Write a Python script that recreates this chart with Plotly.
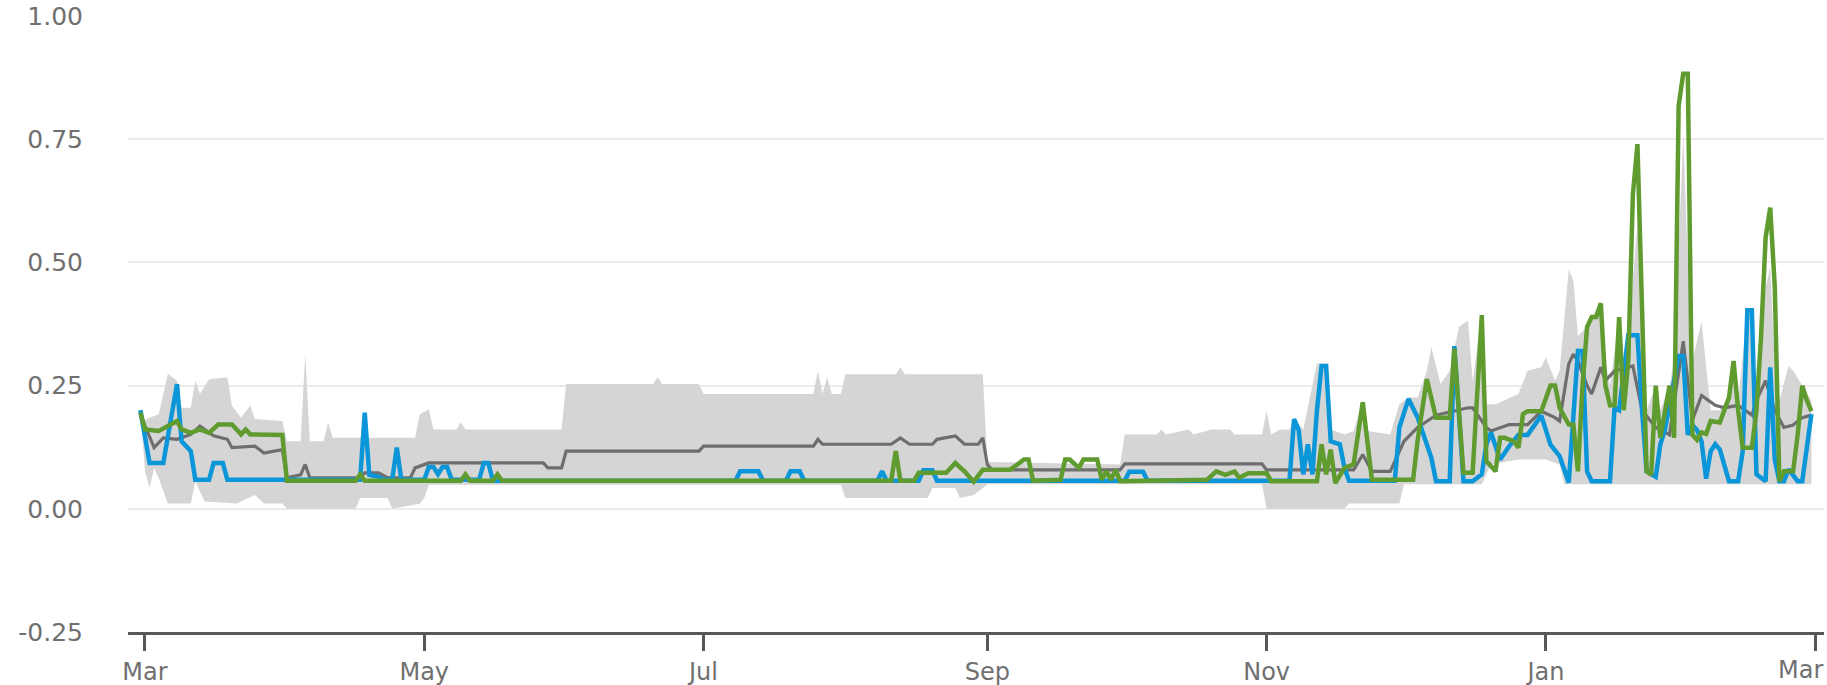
import plotly.graph_objects as go

# ---------------- data ----------------
blue_dates = ["2022-02-28","2022-03-02","2022-03-05","2022-03-08","2022-03-09","2022-03-11","2022-03-12","2022-03-15","2022-03-16","2022-03-18","2022-03-19",
 "2022-04-17","2022-04-18","2022-04-19","2022-04-21","2022-04-22","2022-04-24","2022-04-25","2022-04-26",
 "2022-05-01","2022-05-02","2022-05-03","2022-05-04","2022-05-05","2022-05-06","2022-05-07","2022-05-13","2022-05-14","2022-05-15","2022-05-16",
 "2022-07-08","2022-07-09","2022-07-13","2022-07-14","2022-07-19","2022-07-20","2022-07-22","2022-07-23",
 "2022-08-08","2022-08-09","2022-08-10","2022-08-17","2022-08-18","2022-08-20","2022-08-21",
 "2022-10-01","2022-10-02","2022-10-05","2022-10-06",
 "2022-11-06","2022-11-07","2022-11-08","2022-11-09","2022-11-10","2022-11-11","2022-11-12","2022-11-13","2022-11-14","2022-11-15","2022-11-17","2022-11-18","2022-11-19",
 "2022-11-29","2022-11-30","2022-12-02","2022-12-04","2022-12-07","2022-12-08","2022-12-11","2022-12-12","2022-12-14","2022-12-16","2022-12-18","2022-12-19","2022-12-20",
 "2022-12-22","2022-12-24","2022-12-26","2022-12-28","2022-12-31",
 "2023-01-02","2023-01-04","2023-01-06","2023-01-08","2023-01-09","2023-01-10","2023-01-11","2023-01-15","2023-01-16","2023-01-17","2023-01-19","2023-01-21","2023-01-22",
 "2023-01-23","2023-01-25","2023-01-26","2023-01-27","2023-01-30","2023-01-31",
 "2023-02-01","2023-02-02","2023-02-03","2023-02-04","2023-02-05","2023-02-06","2023-02-07","2023-02-08","2023-02-09","2023-02-10","2023-02-12","2023-02-13",
 "2023-02-14","2023-02-15","2023-02-16","2023-02-18","2023-02-19","2023-02-20","2023-02-21","2023-02-22","2023-02-23","2023-02-25","2023-02-26","2023-02-27","2023-02-28"]
blue_values = [0.20,0.093,0.093,0.253,0.137,0.117,0.059,0.059,0.093,0.093,0.059,
 0.059,0.195,0.069,0.065,0.059,0.059,0.124,0.059,
 0.059,0.085,0.085,0.07,0.085,0.085,0.059,0.059,0.093,0.093,0.057,
 0.057,0.076,0.076,0.057,0.057,0.076,0.076,0.057,
 0.057,0.076,0.057,0.057,0.078,0.078,0.057,
 0.057,0.075,0.075,0.057,
 0.057,0.182,0.16,0.07,0.131,0.07,0.2,0.29,0.29,0.137,0.131,0.083,0.057,
 0.057,0.165,0.223,0.185,0.103,0.056,0.056,0.33,0.056,0.056,0.07,0.13,0.155,
 0.10,0.127,0.15,0.15,0.189,
 0.13,0.107,0.053,0.32,0.32,0.076,0.056,0.056,0.205,0.20,0.352,0.352,0.20,
 0.076,0.065,0.131,0.16,0.31,0.31,
 0.15,0.17,0.16,0.137,0.061,0.117,0.131,0.12,0.09,0.056,0.056,0.117,
 0.403,0.403,0.07,0.056,0.287,0.10,0.056,0.056,0.08,0.056,0.056,0.131,0.192]

green_dates = ["2022-02-28","2022-03-01","2022-03-04","2022-03-06","2022-03-08","2022-03-09","2022-03-11","2022-03-13","2022-03-15","2022-03-17","2022-03-20",
 "2022-03-22","2022-03-23","2022-03-24","2022-03-31","2022-04-01","2022-04-16","2022-04-17","2022-04-18",
 "2022-05-09","2022-05-10","2022-05-11","2022-05-16","2022-05-17","2022-05-18",
 "2022-08-11","2022-08-12","2022-08-13","2022-08-16","2022-08-17","2022-08-23","2022-08-25","2022-08-27","2022-08-29","2022-08-31",
 "2022-09-06","2022-09-09","2022-09-10","2022-09-11","2022-09-17","2022-09-18","2022-09-19","2022-09-21","2022-09-22","2022-09-25","2022-09-26",
 "2022-09-27","2022-09-28","2022-09-29","2022-09-30",
 "2022-10-19","2022-10-21","2022-10-23","2022-10-25","2022-10-26","2022-10-28","2022-11-01","2022-11-02",
 "2022-11-12","2022-11-13","2022-11-14","2022-11-15","2022-11-16","2022-11-18","2022-11-20","2022-11-22","2022-11-24",
 "2022-12-03","2022-12-04","2022-12-06","2022-12-08","2022-12-11","2022-12-12","2022-12-14","2022-12-16","2022-12-18","2022-12-19","2022-12-21",
 "2022-12-22","2022-12-23","2022-12-25","2022-12-26","2022-12-27","2022-12-28","2022-12-31",
 "2023-01-02","2023-01-03","2023-01-04","2023-01-06","2023-01-07","2023-01-08","2023-01-09","2023-01-10","2023-01-11","2023-01-12","2023-01-13",
 "2023-01-14","2023-01-15","2023-01-16","2023-01-17","2023-01-18","2023-01-19","2023-01-20","2023-01-21","2023-01-22","2023-01-23","2023-01-24",
 "2023-01-25","2023-01-26","2023-01-28","2023-01-29","2023-01-30","2023-01-31","2023-02-01","2023-02-02","2023-02-03","2023-02-04","2023-02-05",
 "2023-02-06","2023-02-08","2023-02-10","2023-02-11","2023-02-12","2023-02-13","2023-02-15","2023-02-16","2023-02-17","2023-02-18","2023-02-19",
 "2023-02-20","2023-02-21","2023-02-22","2023-02-24","2023-02-25","2023-02-26","2023-02-27","2023-02-28"]
green_values = [0.195,0.161,0.158,0.168,0.178,0.161,0.154,0.161,0.154,0.171,0.171,
 0.151,0.161,0.151,0.15,0.057,0.057,0.07,0.057,
 0.057,0.07,0.057,0.057,0.07,0.057,
 0.057,0.117,0.057,0.057,0.073,0.073,0.093,0.076,0.055,0.079,
 0.079,0.10,0.10,0.057,0.059,0.10,0.10,0.083,0.10,0.10,0.059,
 0.076,0.059,0.079,0.056,
 0.059,0.076,0.069,0.076,0.063,0.072,0.072,0.056,
 0.056,0.131,0.07,0.12,0.052,0.083,0.09,0.216,0.059,
 0.059,0.14,0.263,0.185,0.185,0.325,0.073,0.073,0.393,0.097,0.076,
 0.144,0.144,0.137,0.124,0.192,0.198,0.198,
 0.25,0.25,0.205,0.171,0.171,0.076,0.25,0.369,0.389,0.389,0.417,
 0.25,0.21,0.21,0.389,0.20,0.30,0.637,0.74,0.40,0.076,0.069,
 0.25,0.144,0.25,0.144,0.818,0.883,0.883,0.15,0.14,0.155,0.152,
 0.178,0.175,0.226,0.30,0.20,0.124,0.124,0.20,0.35,0.55,0.611,
 0.45,0.056,0.076,0.076,0.15,0.25,0.22,0.198]

median_dates = ["2022-02-28","2022-03-03","2022-03-05","2022-03-08","2022-03-11","2022-03-13","2022-03-16","2022-03-19","2022-03-20","2022-03-25","2022-03-27","2022-03-31",
 "2022-04-01","2022-04-04","2022-04-05","2022-04-06","2022-04-17","2022-04-18","2022-04-21","2022-04-23","2022-04-28","2022-04-29",
 "2022-05-02","2022-05-27","2022-05-28","2022-05-31","2022-06-01","2022-06-30","2022-07-01","2022-07-25","2022-07-26","2022-07-27",
 "2022-08-11","2022-08-13","2022-08-15","2022-08-20","2022-08-21","2022-08-25","2022-08-27","2022-08-30","2022-08-31",
 "2022-09-01","2022-09-02","2022-09-30","2022-10-01","2022-10-31","2022-11-01","2022-11-20","2022-11-22","2022-11-24","2022-11-28",
 "2022-12-01","2022-12-04","2022-12-08","2022-12-15","2022-12-16","2022-12-19","2022-12-20","2022-12-24","2022-12-28","2022-12-31",
 "2023-01-03","2023-01-04","2023-01-06","2023-01-07","2023-01-08","2023-01-10","2023-01-11","2023-01-13","2023-01-14","2023-01-16",
 "2023-01-20","2023-01-22","2023-01-25","2023-01-28","2023-01-31","2023-02-02","2023-02-04","2023-02-07","2023-02-09","2023-02-12",
 "2023-02-15","2023-02-16","2023-02-18","2023-02-20","2023-02-22","2023-02-24","2023-02-26","2023-02-28"]
median_values = [0.19,0.124,0.144,0.141,0.151,0.168,0.148,0.141,0.124,0.127,0.113,0.12,
 0.063,0.069,0.09,0.063,0.063,0.073,0.073,0.063,0.063,0.083,
 0.093,0.093,0.083,0.083,0.117,0.117,0.127,0.127,0.141,0.131,
 0.131,0.144,0.131,0.131,0.141,0.148,0.131,0.131,0.144,
 0.09,0.079,0.079,0.091,0.091,0.079,0.079,0.11,0.076,0.076,
 0.137,0.165,0.19,0.205,0.205,0.165,0.158,0.171,0.171,0.198,
 0.185,0.178,0.294,0.314,0.30,0.25,0.233,0.287,0.26,0.28,
 0.29,0.20,0.165,0.15,0.34,0.18,0.23,0.21,0.205,0.21,
 0.19,0.22,0.26,0.20,0.165,0.17,0.185,0.19]

band_high_dates = ["2022-02-28","2022-03-01","2022-03-02","2022-03-04","2022-03-06","2022-03-08","2022-03-09","2022-03-11","2022-03-12","2022-03-13","2022-03-15",
 "2022-03-19","2022-03-20","2022-03-22","2022-03-24","2022-03-25","2022-03-31","2022-04-01","2022-04-04","2022-04-05","2022-04-06","2022-04-09",
 "2022-04-10","2022-04-11","2022-04-29","2022-04-30","2022-05-02","2022-05-03","2022-05-08","2022-05-09","2022-05-10","2022-05-31",
 "2022-06-01","2022-06-20","2022-06-21","2022-06-22","2022-06-30","2022-07-01","2022-07-25","2022-07-26","2022-07-27","2022-07-28","2022-07-29","2022-07-31",
 "2022-08-01","2022-08-12","2022-08-13","2022-08-14","2022-08-31","2022-09-01","2022-09-30","2022-10-01","2022-10-08","2022-10-09","2022-10-10",
 "2022-10-15","2022-10-16","2022-10-20","2022-10-24","2022-10-25","2022-10-31","2022-11-01","2022-11-02","2022-11-04","2022-11-06","2022-11-07",
 "2022-11-09","2022-11-12","2022-11-14","2022-11-15","2022-11-18","2022-11-20","2022-11-22","2022-11-23","2022-11-28","2022-11-30",
 "2022-12-02","2022-12-04","2022-12-06","2022-12-07","2022-12-09","2022-12-11","2022-12-13","2022-12-15","2022-12-16","2022-12-18","2022-12-19",
 "2022-12-21","2022-12-26","2022-12-28","2022-12-31","2023-01-01","2023-01-03","2023-01-04","2023-01-06","2023-01-07","2023-01-08",
 "2023-01-10","2023-01-11","2023-01-13","2023-01-14","2023-01-15","2023-01-17","2023-01-18","2023-01-19","2023-01-21","2023-01-22","2023-01-23",
 "2023-01-25","2023-01-26","2023-01-28","2023-01-29","2023-01-31","2023-02-01","2023-02-02","2023-02-04","2023-02-06","2023-02-08","2023-02-10",
 "2023-02-11","2023-02-12","2023-02-14","2023-02-15","2023-02-16","2023-02-18","2023-02-19","2023-02-20","2023-02-21","2023-02-23","2023-02-24",
 "2023-02-26","2023-02-28"]
band_high_values = [0.202,0.18,0.185,0.192,0.274,0.26,0.205,0.205,0.26,0.233,0.263,
 0.267,0.209,0.185,0.21,0.182,0.178,0.137,0.137,0.314,0.137,0.137,
 0.175,0.144,0.144,0.192,0.202,0.161,0.161,0.175,0.161,0.161,
 0.253,0.253,0.267,0.253,0.253,0.233,0.233,0.28,0.233,0.267,0.233,0.233,
 0.273,0.273,0.287,0.273,0.273,0.095,0.09,0.151,0.151,0.161,0.151,
 0.161,0.151,0.161,0.161,0.151,0.151,0.198,0.151,0.161,0.161,0.185,
 0.161,0.295,0.295,0.161,0.151,0.158,0.22,0.158,0.151,0.212,
 0.226,0.226,0.28,0.328,0.253,0.28,0.369,0.382,0.26,0.396,0.212,
 0.212,0.233,0.28,0.287,0.307,0.26,0.28,0.485,0.464,0.35,
 0.37,0.39,0.42,0.30,0.25,0.39,0.30,0.35,0.58,0.35,0.20,
 0.25,0.20,0.25,0.30,0.76,0.50,0.30,0.38,0.20,0.20,0.23,
 0.30,0.22,0.40,0.40,0.22,0.45,0.49,0.30,0.22,0.29,0.28,
 0.25,0.22]

band_low_dates = ["2022-02-28","2022-03-01","2022-03-02","2022-03-03","2022-03-04","2022-03-06","2022-03-11","2022-03-12","2022-03-14","2022-03-21","2022-03-25",
 "2022-03-27","2022-03-31","2022-04-01","2022-04-16","2022-04-17","2022-04-23","2022-04-24","2022-04-30","2022-05-01","2022-05-02",
 "2022-07-31","2022-08-01","2022-08-19","2022-08-20","2022-08-25","2022-08-26","2022-08-29","2022-08-31","2022-09-01","2022-10-31",
 "2022-11-01","2022-11-18","2022-11-19","2022-11-30","2022-12-01","2022-12-18","2022-12-20","2022-12-26","2023-01-01","2023-01-04",
 "2023-01-05","2023-02-28"]
band_low_values = [0.20,0.076,0.042,0.083,0.062,0.011,0.011,0.056,0.015,0.011,0.028,
 0.011,0.011,0.0,0.0,0.022,0.022,0.0,0.01,0.022,0.049,
 0.049,0.022,0.022,0.042,0.042,0.022,0.028,0.042,0.05,0.05,
 0.0,0.0,0.011,0.011,0.05,0.05,0.09,0.10,0.10,0.09,
 0.05,0.05]

x_tick_dates = ["2022-03-01", "2022-05-01", "2022-07-01", "2022-09-01", "2022-11-01", "2023-01-01", "2023-03-01"]
x_tick_labels = ["Mar", "May", "Jul", "Sep", "Nov", "Jan", "Mar"]
y_tick_values = [-0.25, 0.0, 0.25, 0.5, 0.75, 1.0]
y_tick_labels = ["-0.25", "0.00", "0.25", "0.50", "0.75", "1.00"]

# ---------------- styles ----------------
BLUE = "#0a96d8"
GREEN = "#5f9b2f"
MEDIAN = "#6e6e6e"
BAND = "#d5d5d5"
TEXT = "#707070"
AXIS = "#595959"
FONT = "DejaVu Sans"

fig = go.Figure()

fig.add_trace(go.Scatter(
    x=band_high_dates + band_low_dates[::-1],
    y=band_high_values + band_low_values[::-1],
    fill="toself", fillcolor=BAND, line=dict(width=0), mode="lines",
    hoverinfo="skip", showlegend=False))

fig.add_trace(go.Scatter(x=median_dates, y=median_values, mode="lines",
                         line=dict(color=MEDIAN, width=3.2), showlegend=False))
fig.add_trace(go.Scatter(x=blue_dates, y=blue_values, mode="lines",
                         line=dict(color=BLUE, width=4.5), showlegend=False))
fig.add_trace(go.Scatter(x=green_dates, y=green_values, mode="lines",
                         line=dict(color=GREEN, width=4.5), showlegend=False))

fig.update_layout(
    width=1827, height=685,
    margin=dict(l=128, r=3, t=16, b=53, autoexpand=False),
    paper_bgcolor="white", plot_bgcolor="white",
    font=dict(family=FONT, size=25, color=TEXT),
    showlegend=False,
)

# the last month label sits against the right edge of the picture,
# so it is placed as right-anchored text under its tick
last_label = x_tick_labels[-1]
fig.update_xaxes(
    type="date", automargin=False,
    range=["2022-02-25 07:00", "2023-03-02 18:00"],
    tickmode="array", tickvals=x_tick_dates,
    ticktext=x_tick_labels[:-1] + [""],
    showgrid=False, zeroline=False,
    showline=True, linecolor=AXIS, linewidth=2.5,
    ticks="outside", ticklen=16, tickwidth=2.5, tickcolor=AXIS,
    ticklabeloverflow="allow",
    tickfont=dict(family=FONT, size=24, color=TEXT),
)
fig.add_annotation(
    x=1.0, xref="paper", xanchor="right",
    y=0, yref="paper", yanchor="middle", yshift=-38, borderpad=0,
    text=last_label, showarrow=False,
    font=dict(family=FONT, size=24, color=TEXT),
)
fig.update_yaxes(
    automargin=False,
    range=[-0.25, 1.0],
    tickmode="array", tickvals=y_tick_values, ticktext=y_tick_labels,
    showgrid=True, gridcolor="#ebebeb", gridwidth=2,
    zeroline=False, showline=False, ticks="",
    ticklabelstandoff=44, ticklabeloverflow="allow",
    tickfont=dict(family=FONT, size=25, color=TEXT),
)

fig.write_html("out.html", config={"displayModeBar": False},
               post_script="document.body.style.margin='0';")
